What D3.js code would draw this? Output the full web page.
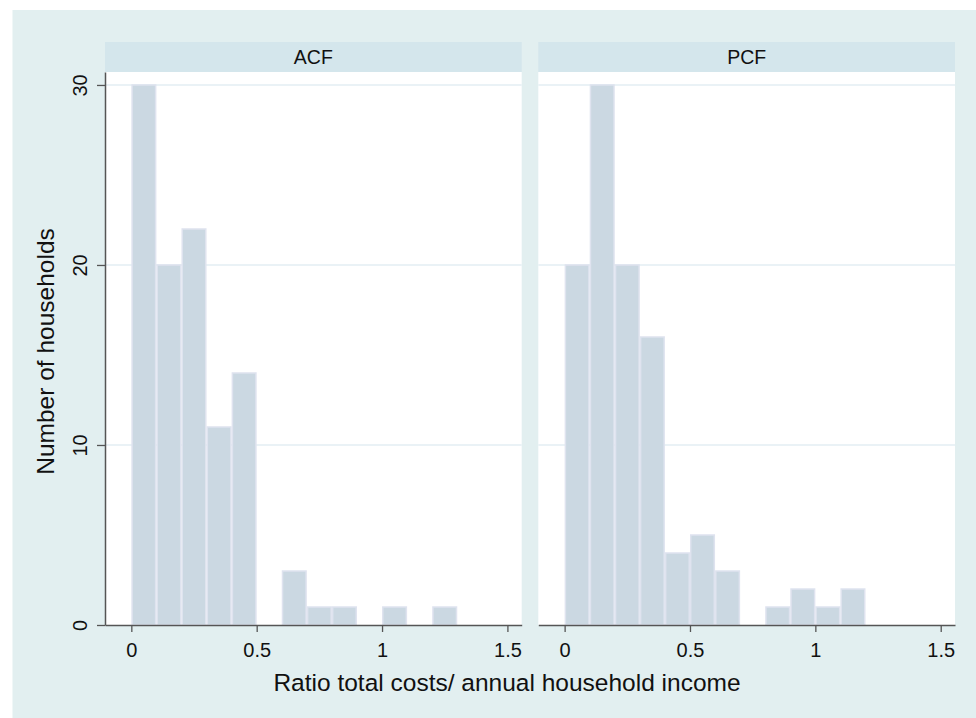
<!DOCTYPE html>
<html>
<head>
<meta charset="utf-8">
<script src="https://cdn.jsdelivr.net/npm/d3@7"></script>
<style>
  html, body { margin: 0; padding: 0; background: #ffffff; }
  svg { display: block; font-family: "Liberation Sans", Arial, Helvetica, sans-serif; }
</style>
</head>
<body>
<svg id="chart" width="976" height="718"></svg>
<script>
// Histogram of cost-to-income ratio, bins of width 0.1 starting at 0
const binWidth = 0.1;
const binStarts = [0, 0.1, 0.2, 0.3, 0.4, 0.5, 0.6, 0.7, 0.8, 0.9, 1.0, 1.1, 1.2];
const acfCounts = [30, 20, 22, 11, 14, 0, 3, 1, 1, 0, 1, 0, 1];
const pcfCounts = [20, 30, 20, 16, 4, 5, 3, 0, 1, 2, 1, 2, 0];
const panelNames = ["ACF", "PCF"];
const xTicks = [0, 0.5, 1, 1.5];
const xTickLabels = ["0", "0.5", "1", "1.5"];
const yTicks = [0, 10, 20, 30];
const yTickLabels = ["0", "10", "20", "30"];
const xTitle = "Ratio total costs/ annual household income";
const yTitle = "Number of households";

const svg = d3.select("#chart");

// outer graph region
svg.append("rect")
  .attr("x", 12.5).attr("y", 10).attr("width", 976 - 12.5).attr("height", 718 - 10)
  .attr("fill", "#e2eff0");

const plotTop = 72, plotBottom = 625;
const headerTop = 42;
const panels = [
  { name: panelNames[0], counts: acfCounts, left: 105, right: 521.7 },
  { name: panelNames[1], counts: pcfCounts, left: 538.3, right: 955 }
];

const y = d3.scaleLinear().domain([0, 30.72]).range([plotBottom, plotTop]);

const fontTick = 20;

panels.forEach((p, i) => {
  const x = d3.scaleLinear().domain([-0.105, 1.557]).range([p.left, p.right]);
  const g = svg.append("g");

  // header strip with panel label
  g.append("rect")
    .attr("x", p.left).attr("y", headerTop)
    .attr("width", p.right - p.left).attr("height", plotTop - headerTop)
    .attr("fill", "#d4e6ec");
  g.append("text")
    .attr("x", (p.left + p.right) / 2).attr("y", 64)
    .attr("text-anchor", "middle")
    .attr("font-size", 19.5).attr("fill", "#111")
    .text(p.name);

  // plot area
  g.append("rect")
    .attr("x", p.left).attr("y", plotTop)
    .attr("width", p.right - p.left).attr("height", plotBottom - plotTop)
    .attr("fill", "#ffffff");

  // horizontal grid lines
  g.selectAll("line.grid")
    .data(yTicks.filter(d => d > 0))
    .enter().append("line")
    .attr("x1", p.left).attr("x2", p.right)
    .attr("y1", d => y(d)).attr("y2", d => y(d))
    .attr("stroke", "#e3eef3").attr("stroke-width", 1.5);

  // bars
  const bins = binStarts.map((s, k) => ({ x0: s, x1: s + binWidth, n: p.counts[k] }))
    .filter(b => b.n > 0);
  g.selectAll("rect.bar")
    .data(bins)
    .enter().append("rect")
    .attr("class", "bar")
    .attr("x", d => x(d.x0) + 0.75)
    .attr("width", d => x(d.x1) - x(d.x0) - 1.5)
    .attr("y", d => y(d.n))
    .attr("height", d => y(0) - y(d.n))
    .attr("fill", "#cbd8e2")
    .attr("stroke", "#dfe3ef").attr("stroke-width", 1.5);

  // x axis
  const xa = d3.axisBottom(x)
    .tickValues(xTicks)
    .tickFormat((d, k) => xTickLabels[k])
    .tickSizeInner(7).tickSizeOuter(0).tickPadding(8);
  const xg = g.append("g").attr("transform", `translate(0,${plotBottom})`).call(xa);
  xg.select(".domain").attr("stroke", "#555").attr("stroke-width", 1.5);
  xg.selectAll(".tick line").attr("stroke", "#555").attr("stroke-width", 1.3);
  xg.selectAll(".tick text")
    .attr("font-size", fontTick).attr("fill", "#111")
    .attr("font-family", "Liberation Sans, Arial, sans-serif")
    .attr("dy", "0").attr("y", 31.5);

  // y axis on the first panel only
  if (i === 0) {
    const ya = d3.axisLeft(y)
      .tickValues(yTicks)
      .tickFormat((d, k) => yTickLabels[k])
      .tickSizeInner(8).tickSizeOuter(0);
    const yg = g.append("g").attr("transform", `translate(${p.left},0)`).call(ya);
    yg.select(".domain").attr("stroke", "#555").attr("stroke-width", 1.5);
    yg.selectAll(".tick line").attr("stroke", "#555").attr("stroke-width", 1.3);
    yg.selectAll(".tick text")
      .attr("font-size", fontTick).attr("fill", "#111")
      .attr("font-family", "Liberation Sans, Arial, sans-serif")
      .attr("x", 0).attr("dy", 0).attr("y", 0)
      .attr("text-anchor", "middle")
      .attr("transform", "translate(-18,0) rotate(-90)");
  }
});

// axis titles
svg.append("text")
  .attr("x", 507).attr("y", 691)
  .attr("text-anchor", "middle")
  .attr("font-size", 24.5).attr("fill", "#111")
  .text(xTitle);

svg.append("text")
  .attr("transform", `translate(54,${(plotTop + plotBottom) / 2 + 3}) rotate(-90)`)
  .attr("text-anchor", "middle")
  .attr("font-size", 24.5).attr("fill", "#111")
  .text(yTitle);
</script>
</body>
</html>
